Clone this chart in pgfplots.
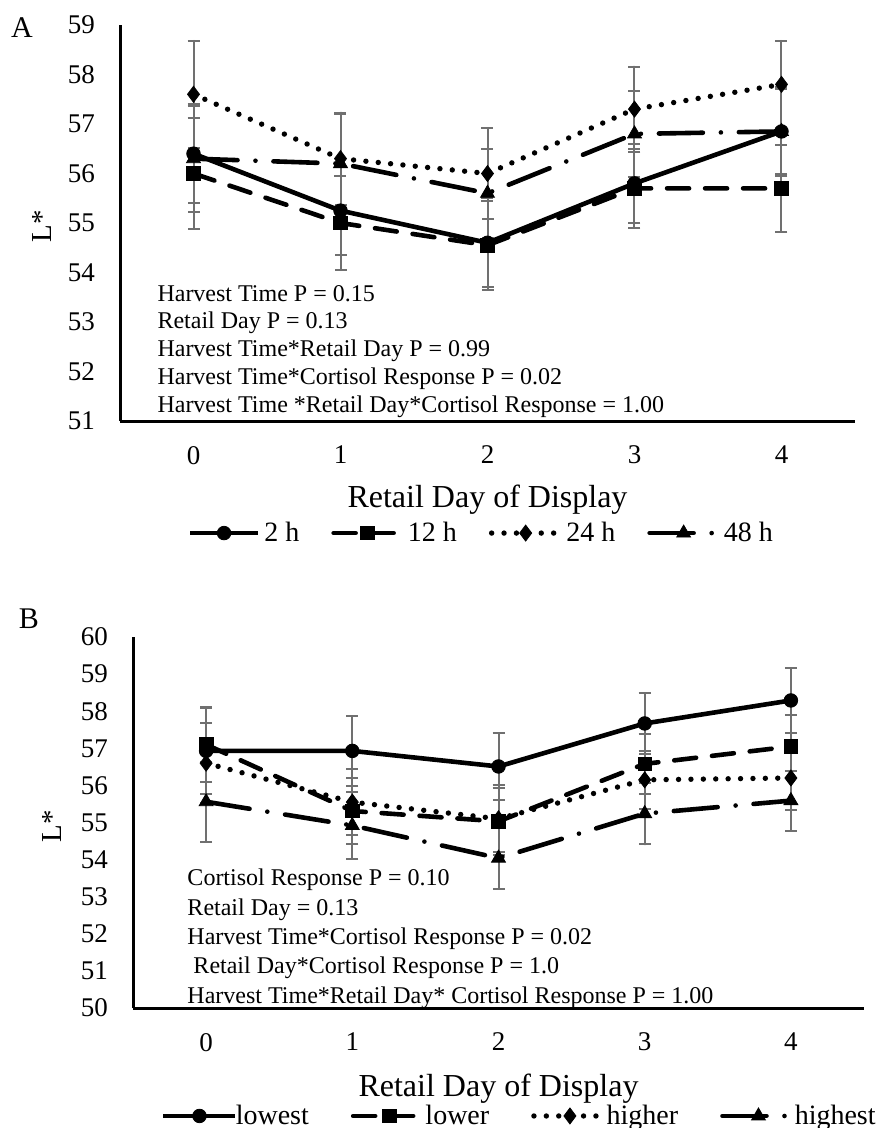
\documentclass[border=0pt]{standalone}
\usepackage{pgfplots}
\pgfplotsset{compat=1.18}
\usepackage{pgfplotstable}
\usepackage{fontspec}
\setmainfont{Liberation Serif}
\definecolor{ebgray}{HTML}{707070}

\pgfplotstableread{
x  a   ea   b   eb   c   ec   d   ed
0 56.40 1.00 56.00 1.12 57.60 1.08 56.30 1.07
1 55.25 0.90 55.00 0.95 56.30 0.93 56.20 1.00
2 54.60 0.90 54.55 0.90 56.00 0.92 55.60 0.90
3 55.80 0.80 55.70 0.80 57.30 0.86 56.80 0.87
4 56.85 0.90 55.70 0.88 57.80 0.88 56.85 0.85
}\dataA

\pgfplotstableread{
x  a   ea   b   eb   c   ec   d   ed
0 56.93 1.15 57.10 1.00 56.60 1.07 55.56 1.08
1 56.93 0.95 55.31 0.90 55.55 0.88 54.92 0.90
2 56.51 0.90 55.03 0.90 55.10 0.90 54.04 0.83
3 57.67 0.82 56.58 0.80 56.15 0.78 55.24 0.83
4 58.29 0.88 57.05 0.85 56.20 0.85 55.59 0.81
}\dataB

\pgfplotsset{
  panel/.style={
    scale only axis, clip=false,
    axis lines=left, axis line style={-, line width=1.5pt, black},
    xmin=-0.5, xmax=4.5, xtick={0,1,2,3,4},
    major tick length=0pt,
    tick label style={font=\fontsize{13.5}{16}\selectfont},
    /pgf/number format/assume math mode=true,
    yticklabel style={xshift=-9pt},
    xticklabel style={yshift=-9pt},
    legend columns=4,
    legend style={draw=none, fill=none, font=\fontsize{14}{16}\selectfont},
  },
  ebars/.style={error bars/.cd, y dir=both, y explicit, error mark=-,
    error bar style={ebgray, line width=1pt, solid},
    error mark options={ebgray, line width=1pt, mark size=3pt, solid, rotate=90}},
  sA/.style={black, line width=2.3pt, solid, mark=*, mark size=3.4pt, mark options={solid, line width=0.4pt}, ebars},
  sB/.style={black, line width=2.3pt, line cap=round, dash pattern=on 11pt off 8pt, mark=square*, mark size=3.4pt, mark options={solid, line width=0.4pt}, ebars},
  sC/.style={black, line width=2.7pt, line cap=round, dash pattern=on 0pt off 6.2pt, mark=diamond*, mark size=4pt, mark options={solid, line width=0.4pt}, ebars},
  sD/.style={black, line width=2.3pt, line cap=round, dash pattern=on 22pt off 9pt on 0pt off 9pt, mark=triangle*, mark size=4pt, mark options={solid, line width=0.4pt}, ebars},
}

\begin{document}
\begin{tikzpicture}
\useasboundingbox (0pt,0pt) rectangle (438.5pt,-564pt);

% Panel A
\node[font=\fontsize{15}{18}\selectfont] at (11pt,-14pt) {A};
\node[font=\fontsize{14.5}{18}\selectfont, rotate=90] at (21pt,-113pt) {L*};
\begin{axis}[panel,
  at={(60pt,-210.5pt)}, anchor=south west,
  width=367.5pt, height=198pt,
  ymin=51, ymax=59, ytick={51,52,...,59},
  legend style={at={(axis description cs:0.493,-0.283)}, anchor=center,
    /tikz/every even column/.append style={column sep=14pt}},
  legend image code/.code={\draw[mark repeat=2,mark phase=2] plot coordinates {(0pt,0pt) (17pt,0pt) (34pt,0pt)};},
]
\addplot[sA] table[x=x, y=a, y error=ea] {\dataA};
\addplot[sB] table[x=x, y=b, y error=eb] {\dataA};
\addplot[sC] table[x=x, y=c, y error=ec] {\dataA};
\addplot[sD] table[x=x, y=d, y error=ed] {\dataA};
\legend{2 h, 12 h, 24 h, 48 h}
\node[anchor=north west, align=left, inner sep=0pt, font=\fontsize{12}{13.9}\selectfont] at (axis description cs:0.0505,0.344)
 {Harvest Time P = 0.15\\Retail Day P = 0.13\\Harvest Time*Retail Day P = 0.99\\Harvest Time*Cortisol Response P = 0.02\\Harvest Time *Retail Day*Cortisol Response = 1.00};
\node[font=\fontsize{16}{19}\selectfont] at (axis description cs:0.5,0) [yshift=-39.5pt] {Retail Day of Display};
\end{axis}

% Panel B
\node[font=\fontsize{15}{18}\selectfont] at (14.5pt,-309.5pt) {B};
\node[font=\fontsize{14.5}{18}\selectfont, rotate=90] at (26pt,-413pt) {L*};
\begin{axis}[panel,
  at={(66.5pt,-504pt)}, anchor=south west,
  width=365.5pt, height=185.5pt,
  ymin=50, ymax=60, ytick={50,51,...,60},
  legend style={at={(axis description cs:0.53,-0.291)}, anchor=center,
    /tikz/every even column/.append style={column sep=19pt},
    /tikz/every odd column/.append style={column sep=-3pt}},
  legend image code/.code={\draw[mark repeat=2,mark phase=2] plot coordinates {(0pt,0pt) (18pt,0pt) (36pt,0pt)};},
]
\addplot[sA] table[x=x, y=a, y error=ea] {\dataB};
\addplot[sB] table[x=x, y=b, y error=eb] {\dataB};
\addplot[sC] table[x=x, y=c, y error=ec] {\dataB};
\addplot[sD] table[x=x, y=d, y error=ed] {\dataB};
\legend{lowest, lower, higher, highest}
\node[anchor=north west, align=left, inner sep=0pt, font=\fontsize{12}{14.65}\selectfont] at (axis description cs:0.074,0.375)
 {Cortisol Response P = 0.10\\Retail Day = 0.13\\Harvest Time*Cortisol Response P = 0.02\\\hspace{3pt}Retail Day*Cortisol Response P = 1.0\\Harvest Time*Retail Day* Cortisol Response P = 1.00};
\node[font=\fontsize{16}{19}\selectfont] at (axis description cs:0.5,0) [yshift=-40.5pt] {Retail Day of Display};
\end{axis}
\end{tikzpicture}
\end{document}
